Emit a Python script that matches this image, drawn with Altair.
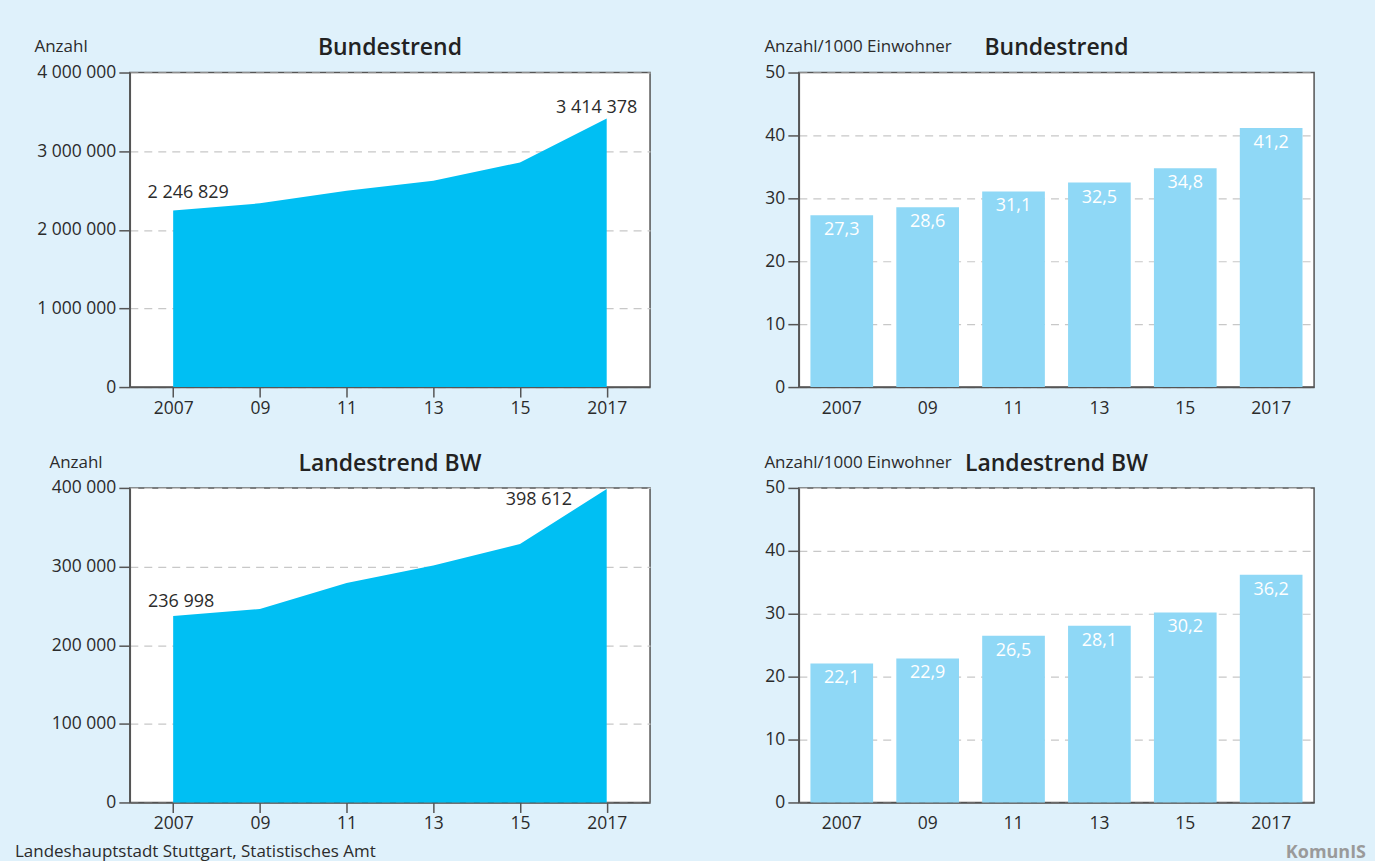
import altair as alt
import pandas as pd

# ---- data -------------------------------------------------------------
years = [2007, 2009, 2011, 2013, 2015, 2017]
year_labels = ["2007", "09", "11", "13", "15", "2017"]
bund_count = [2246829, 2336000, 2497000, 2624000, 2857000, 3414378]
land_count = [236998, 246000, 279100, 301200, 328700, 398612]
bund_rate = [27.3, 28.6, 31.1, 32.5, 34.8, 41.2]
land_rate = [22.1, 22.9, 26.5, 28.1, 30.2, 36.2]
titles = ["Bundestrend", "Landestrend BW"]
footer = ["Landeshauptstadt Stuttgart, Statistisches Amt"]
logo = ["KomunIS"]

# ---- style ------------------------------------------------------------
FONT = "Open Sans"
BG = "#dff1fb"
AREA = "#00bff3"
BAR = "#8fd8f6"
TXT = "#2b2b2b"
AX = "#555555"
GRID = "#c8c8c8"
LBL = 17.5

label_expr = "''"
for y, l in reversed(list(zip(years, year_labels))):
    label_expr = f"datum.value == {y} ? '{l}' : ({label_expr})"


def yaxis(values, title, tx, ty):
    return alt.Axis(
        values=values, format=",d", title=title, titleAngle=0, titleAlign="left",
        titleBaseline="alphabetic", titleX=tx, titleY=ty, titleFontSize=17,
        titleFontWeight="normal", titleColor=TXT, titleFont=FONT,
        labelFont=FONT, labelFontSize=LBL, labelColor=TXT, labelPadding=3,
        tickSize=11, tickColor=AX, tickWidth=1.5, domainColor=AX, domainWidth=1.5,
        grid=True, gridColor=GRID, gridDash=[8, 6], gridWidth=1.2,
    )


def ptitle(text):
    return alt.TitleParams(text=text, frame="group", anchor="middle", offset=14, dy=36)


def area_panel(values, title, ymax, ystep, tx, ty, anns, extra=None):
    df = pd.DataFrame({"year": years, "value": values})
    base = alt.Chart(df)
    x = alt.X("year:Q", scale=alt.Scale(domain=[2006, 2018], nice=False, zero=False),
              axis=alt.Axis(values=years, labelExpr=label_expr, title=None, grid=False,
                            labelFont=FONT, labelFontSize=LBL, labelColor=TXT, labelPadding=2,
                            tickSize=10, tickColor=AX, tickWidth=1.5, domainColor=AX,
                            domainWidth=1.5, labelFlush=False))
    y = alt.Y("value:Q", scale=alt.Scale(domain=[0, ymax], nice=False),
              axis=yaxis(list(range(0, ymax + 1, ystep)), "Anzahl", tx, ty))
    layers = [base.mark_area(color=AREA, opacity=1).encode(x=x, y=y)]
    for yr, dx, dy in anns:
        layers.append(
            base.transform_filter(alt.datum.year == yr)
            .mark_text(font=FONT, fontSize=18, color=TXT, dx=dx, dy=dy, baseline="alphabetic")
            .encode(x="year:Q", y="value:Q", text=alt.Text("value:Q", format=",d"))
        )
    if extra is not None:
        layers.append(extra)
    return alt.layer(*layers).properties(width=521, height=315, title=ptitle(title))


def bar_panel(values, title, ty, extra=None):
    df = pd.DataFrame({"label": year_labels, "value": values})
    base = alt.Chart(df)
    x = alt.X("label:N", sort=year_labels,
              scale=alt.Scale(paddingInner=0.27, paddingOuter=0.135),
              axis=alt.Axis(title=None, ticks=False, labelAngle=0, labelFont=FONT,
                            labelFontSize=LBL, labelColor=TXT, labelPadding=12,
                            domainColor=AX, domainWidth=1.5))
    y = alt.Y("value:Q", scale=alt.Scale(domain=[0, 50], nice=False),
              axis=yaxis([0, 10, 20, 30, 40, 50], "Anzahl/1000 Einwohner", -35, ty))
    bars = base.mark_bar(color=BAR).encode(x=x, y=y)
    txt = base.mark_text(font=FONT, fontSize=18, color="white", baseline="top", dy=6).encode(
        x=alt.X("label:N", sort=year_labels), y="value:Q",
        text=alt.Text("value:Q", format=".1f"))
    layers = [bars, txt]
    if extra is not None:
        layers.append(extra)
    return alt.layer(*layers).properties(width=516, height=315, title=ptitle(title))


foot = alt.Chart(pd.DataFrame({"t": footer})).mark_text(
    font=FONT, fontSize=17, color=TXT, align="left", baseline="alphabetic"
).encode(x=alt.value(-115), y=alt.value(370), text="t:N")

logo_mark = alt.Chart(pd.DataFrame({"t": logo})).mark_text(
    font=FONT, fontSize=18, fontWeight="bold", color="#9a9a9a", align="right", baseline="alphabetic"
).encode(x=alt.value(568), y=alt.value(371), text="t:N")

a1 = area_panel(bund_count, titles[0], 4000000, 1000000, -96, -21,
                [(2007, 15, -12), (2017, -10, -6)])
b1 = bar_panel(bund_rate, titles[0], -21)
a2 = area_panel(land_count, titles[1], 400000, 100000, -81, -20,
                [(2007, 8, -9), (2017, -68, 16)], extra=foot)
b2 = bar_panel(land_rate, titles[1], -20, extra=logo_mark)

chart = alt.concat(a1, b1, a2, b2, columns=2, spacing={"row": 34, "column": 112}).properties(
    background=BG,
    padding={"left": 14, "top": 35, "right": 8, "bottom": 0},
).configure(
    locale={"number": {"decimal": ",", "thousands": " ", "grouping": [3], "currency": ["", " €"]}},
).configure_view(stroke=AX, strokeWidth=1.5, fill="white"
).configure_title(font=FONT, fontSize=23, fontWeight=600, color="#222222")

chart.save("out.html", embed_options={"renderer": "svg", "actions": False})
